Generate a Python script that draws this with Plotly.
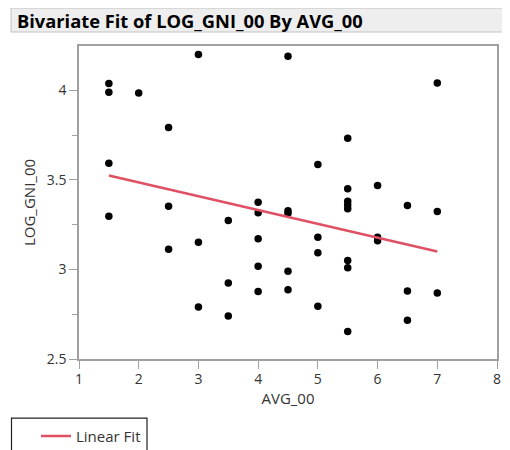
import plotly.graph_objects as go

# Data
avg_00 = [1.5, 1.5, 1.5, 1.5,
          2.0,
          2.5, 2.5, 2.5,
          3.0, 3.0, 3.0,
          3.5, 3.5, 3.5,
          4.0, 4.0, 4.0, 4.0, 4.0,
          4.5, 4.5, 4.5, 4.5, 4.5,
          5.0, 5.0, 5.0, 5.0,
          5.5, 5.5, 5.5, 5.5, 5.5, 5.5, 5.5, 5.5,
          6.0, 6.0, 6.0,
          6.5, 6.5, 6.5,
          7.0, 7.0, 7.0]
log_gni_00 = [4.037, 3.989, 3.593, 3.297,
              3.985,
              3.792, 3.352, 3.112,
              4.200, 3.152, 2.790,
              3.273, 2.924, 2.740,
              3.375, 3.316, 3.171, 3.017, 2.877,
              4.190, 3.328, 3.314, 2.990, 2.887,
              3.585, 3.180, 3.093, 2.794,
              3.732, 3.450, 3.381, 3.360, 3.338, 3.050, 3.010, 2.653,
              3.468, 3.180, 3.160,
              3.357, 2.879, 2.716,
              4.040, 3.323, 2.868]

fit_x = [1.5, 7.0]
fit_y = [3.524, 3.100]

x_ticks = [1, 2, 3, 4, 5, 6, 7, 8]
y_ticks = [2.5, 3, 3.5, 4]
y_ticklabels = ["2.5", "3", "3.5", "4"]

title_text = "Bivariate Fit of LOG_GNI_00 By AVG_00"

FONT = "Open Sans, DejaVu Sans, sans-serif"
TXT = "#333333"
AX = "#a0a0a0"

fig = go.Figure()
fig.add_trace(go.Scatter(
    x=avg_00, y=log_gni_00, mode="markers",
    marker=dict(color="black", size=7.5),
    showlegend=False, name="Data"))
fig.add_trace(go.Scatter(
    x=fit_x, y=fit_y, mode="lines",
    line=dict(color="#e05064", width=2.5),
    name="Linear Fit", showlegend=True))

# page has an 8px body margin; figure sized so that it fits the window
OFF = 8
W, H = 502, 442
L, T = 71, 38
pw, ph = 418, 313.3
R = W - L - pw
B = H - T - ph

def px(x):  # x in page pixels
    return (x - OFF - L) / pw

def py(y):  # y in page pixels
    return (T + ph - (y - OFF)) / ph

fig.update_layout(
    width=W, height=H,
    margin=dict(l=L, r=R, t=T, b=B, autoexpand=False),
    paper_bgcolor="white", plot_bgcolor="white",
    font=dict(family=FONT, size=14, color=TXT),
    xaxis=dict(
        range=[1, 8], tickvals=x_ticks, ticks="outside", ticklen=8,
        tickcolor=AX, showline=True, linecolor=AX, linewidth=1.5,
        mirror=True, showgrid=False, zeroline=False, automargin=False,
        ticklabelstandoff=-2,
        title=dict(text="AVG_00", standoff=2, font=dict(size=15, color=TXT)),
        tickfont=dict(size=14, color=TXT)),
    yaxis=dict(
        range=[2.5, 4.247], tickvals=y_ticks, ticktext=y_ticklabels,
        ticks="outside", ticklen=8,
        tickcolor=AX, showline=True, linecolor=AX, linewidth=1.5,
        mirror=True, showgrid=False, zeroline=False, automargin=False,
        minor=dict(tickvals=[2.75, 3.25, 3.75], ticks="outside", ticklen=5,
                   tickcolor=AX, showgrid=False),
        title=dict(text="LOG_GNI_00", standoff=8, font=dict(size=15, color=TXT)),
        tickfont=dict(size=14, color=TXT)),
    legend=dict(
        x=px(36), y=py(420), xanchor="left", yanchor="top",
        borderwidth=0, bgcolor="rgba(0,0,0,0)",
        font=dict(size=15, color=TXT), itemwidth=30,
        orientation="v"),
    shapes=[
        dict(type="rect", xref="paper", yref="paper",
             x0=px(11), x1=px(512), y0=py(32), y1=py(8),
             fillcolor="#eeeeee", line=dict(color="#c4c4c4", width=1), layer="below"),
        dict(type="rect", xref="paper", yref="paper",
             x0=px(11.5), x1=px(147), y0=py(462), y1=py(418.5),
             fillcolor="rgba(0,0,0,0)", line=dict(color="#222222", width=1.2), layer="below"),
    ],
    annotations=[dict(
        text="<b>" + title_text + "</b>", xref="paper", yref="paper",
        x=px(15), y=py(20), xanchor="left", yanchor="middle", showarrow=False,
        font=dict(family=FONT, size=18.3, color="black"))],
)

fig.write_html("out.html")
